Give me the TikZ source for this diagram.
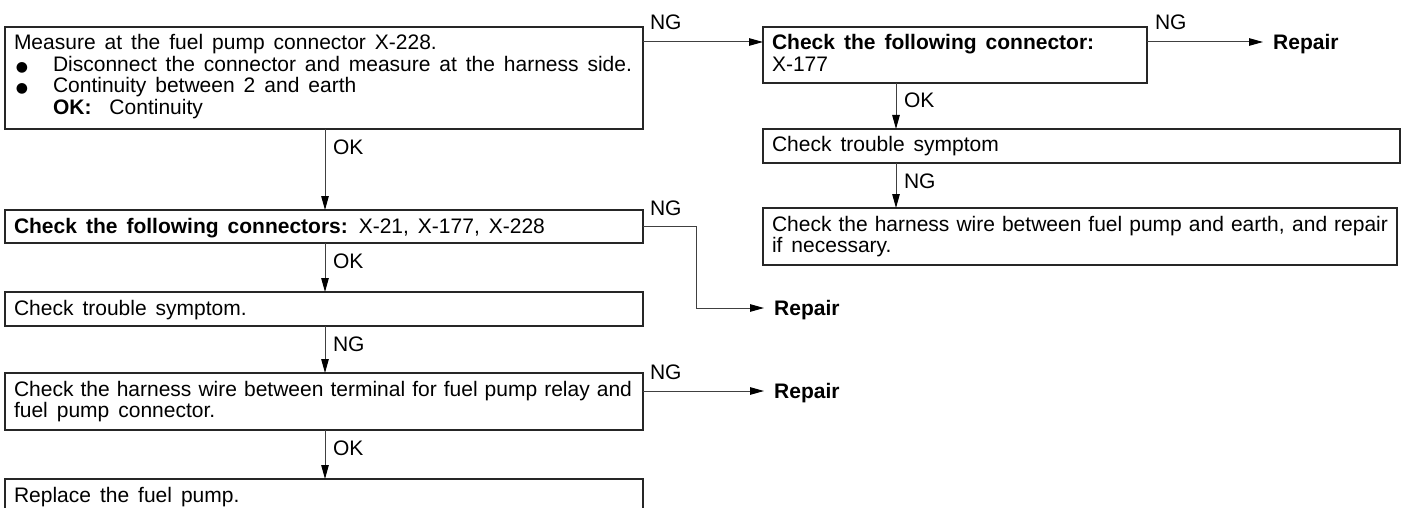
\documentclass[tikz,border=0pt]{standalone}
\usepackage{fontspec}
\setmainfont{Liberation Sans}
\newfontfamily\symfont{DejaVu Sans}
\usetikzlibrary{arrows.meta,calc}
\newcommand\widespaces{\spaceskip=9pt plus 14pt minus 3pt\relax}
\tikzset{
  box/.style={draw=black!85, line width=1.2pt, rectangle, anchor=north west, inner sep=0pt, outer sep=0pt},
  txt/.style={anchor=base west, inner sep=0pt, outer sep=0pt, font=\fontsize{21}{21.5}\selectfont, execute at begin node=\widespaces},
  bul/.style={anchor=base west, inner sep=0pt, outer sep=0pt, font=\symfont\fontsize{14}{14}\selectfont},
  conn/.style={draw=black!75, line width=1pt},
  arr/.style={conn, -{Triangle[length=14pt,width=7.5pt,color=black]}},
  rep/.style={anchor=west, inner xsep=10pt, inner ysep=0pt, text height=15pt, text depth=0pt, font=\fontsize{21}{21.5}\selectfont\bfseries},
}
\begin{document}
\begin{tikzpicture}[x=1pt,y=-1pt]
\useasboundingbox (0,0) rectangle (1408,508);
\clip (0,0) rectangle (1408,508);
% boxes
\node[box, minimum width=638pt, minimum height=102pt] (b1) at (5,27) {};
\node[box, minimum width=384pt, minimum height=56pt] (b2) at (763,27) {};
\node[box, minimum width=637pt, minimum height=34pt] (b3) at (763,129) {};
\node[box, minimum width=634pt, minimum height=57pt] (b4) at (763,208) {};
\node[box, minimum width=638pt, minimum height=33pt] (b5) at (5,210) {};
\node[box, minimum width=638pt, minimum height=34pt] (b6) at (5,292) {};
\node[box, minimum width=638pt, minimum height=57pt] (b7) at (5,373) {};
\node[box, minimum width=638pt, minimum height=51pt] (b8) at (5,479) {};
% texts
\node[txt] (t1a) at (14,50) {Measure at the fuel pump connector X-228.};
\node[bul] (u1) at (16,71.5) {●};
\node[txt] (t1b) at (53,71.5) {\makebox[579pt][s]{Disconnect the connector and measure at the harness side.}};
\node[bul] (u2) at (16,93) {●};
\node[txt] (t1c) at (53,93) {Continuity between 2 and earth};
\node[txt] (t1d) at (53,114.5) {\textbf{OK:}\hspace{18pt}Continuity};
\node[txt] (t2a) at (772,50) {\textbf{Check the following connector:}};
\node[txt] (t2b) at (772,71.5) {X-177};
\node[txt] (t3) at (772,152) {Check trouble symptom};
\node[txt] (t4a) at (772,231) {\makebox[616pt][s]{Check the harness wire between fuel pump and earth, and repair}};
\node[txt] (t4b) at (772,252.5) {if necessary.};
\node[txt] (t5) at (14,233) {\textbf{Check the following connectors:} X-21, X-177, X-228};
\node[txt] (t6) at (14,315) {Check trouble symptom.};
\node[txt] (t7a) at (14,396) {\makebox[618pt][s]{Check the harness wire between terminal for fuel pump relay and}};
\node[txt] (t7b) at (14,417.5) {fuel pump connector.};
\node[txt] (t8) at (14,502) {Replace the fuel pump.};
% repair nodes
\node[rep] (r1) at (1263,42) {Repair};
\node[rep] (r2) at (764,308) {Repair};
\node[rep] (r3) at (764,391) {Repair};
% helper coordinates
\coordinate (xl) at (325,0);
\coordinate (xr) at (896,0);
\coordinate (xb) at (696,0);
\coordinate (y1) at (0,42);
% connectors
\draw[arr] (b1.east |- y1) -- (b2.west |- y1);
\draw[arr] (b2.east |- r1.west) -- (r1.west);
\draw[arr] (b2.south -| xr) -- (b3.north -| xr);
\draw[arr] (b3.south -| xr) -- (b4.north -| xr);
\draw[arr] (b1.south -| xl) -- (b5.north -| xl);
\draw[arr] (b5.east) -- (xb |- b5.east) -- (xb |- r2.west) -- (r2.west);
\draw[arr] (b5.south -| xl) -- (b6.north -| xl);
\draw[arr] (b6.south -| xl) -- (b7.north -| xl);
\draw[arr] (b7.east |- r3.west) -- (r3.west);
\draw[arr] (b7.south -| xl) -- (b8.north -| xl);
% labels
\node[txt] (n1) at (650,30) {NG};
\node[txt] (n2) at (1155,30) {NG};
\node[txt] (k1) at (904,108) {OK};
\node[txt] (n3) at (904,188) {NG};
\node[txt] (k2) at (333,154) {OK};
\node[txt] (n4) at (650,215) {NG};
\node[txt] (k3) at (333,268) {OK};
\node[txt] (n5) at (333,351) {NG};
\node[txt] (n6) at (650,379) {NG};
\node[txt] (k4) at (333,455) {OK};
\end{tikzpicture}
\end{document}
